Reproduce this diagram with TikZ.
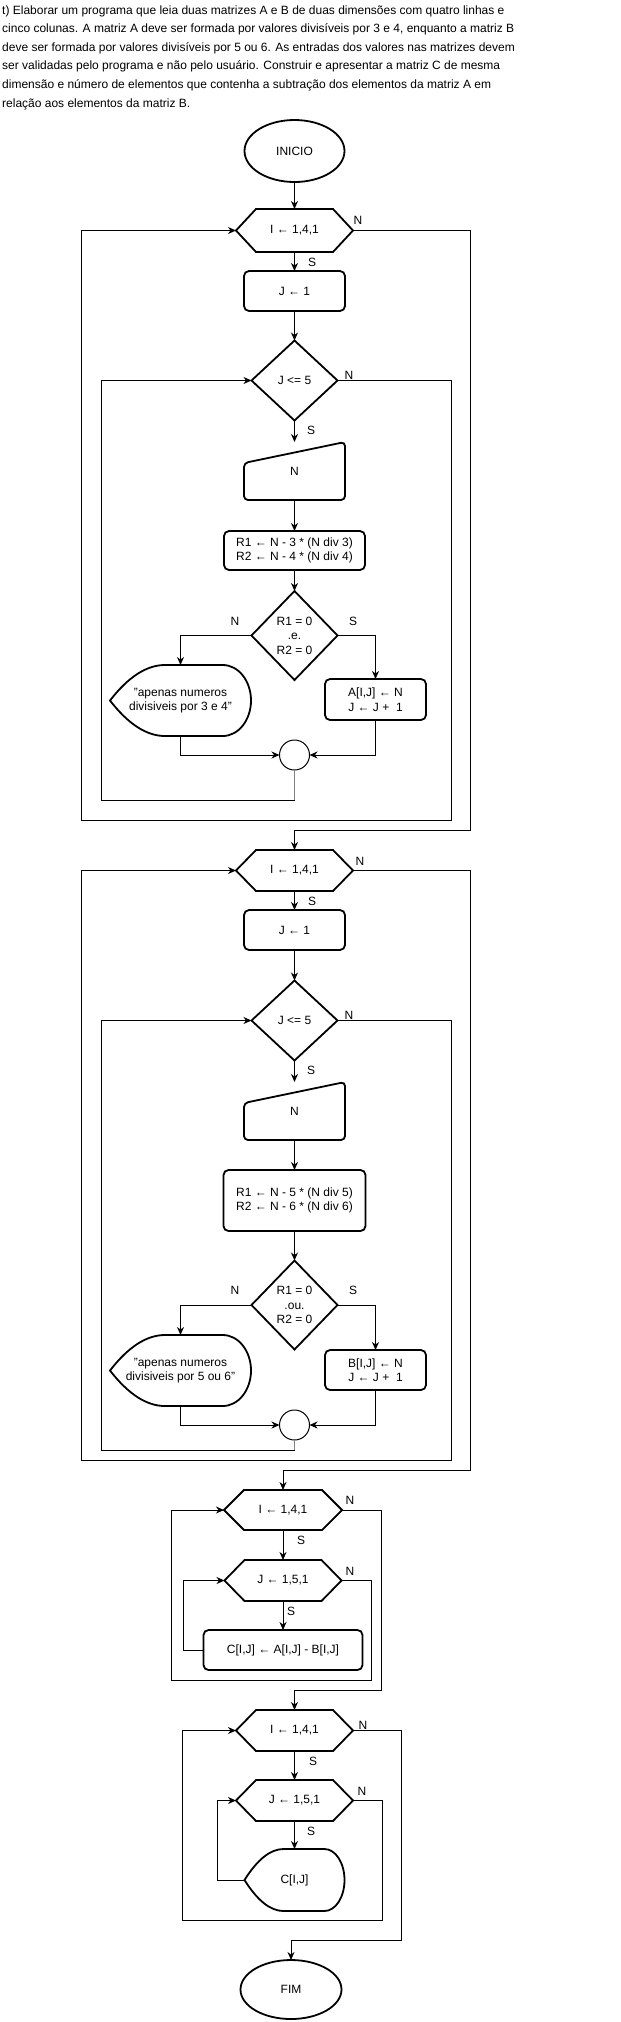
\documentclass[tikz,border=0pt]{standalone}
\usepackage{fontspec}
\setmainfont{Liberation Sans}
\usetikzlibrary{arrows.meta,shapes.geometric,calc}
\newcommand\fsz{\fontsize{12}{14.5}\selectfont}
\tikzset{
  ghost/.style={rectangle,inner sep=0pt,outer sep=0pt,align=center,font=\fsz},
  outl/.style={line width=1.8pt,line join=miter},
  rbox/.style={draw,rectangle,line width=1.8pt,rounded corners=5pt,inner sep=0pt,outer sep=0pt,align=center,font=\fsz},
  term/.style={draw,ellipse,line width=1.8pt,inner sep=0pt,outer sep=0pt,font=\fsz},
  junc/.style={draw,circle,line width=1pt,inner sep=0pt,outer sep=0pt,minimum size=30pt},
  con/.style={line width=1pt,-{Stealth[length=8pt,width=7pt,inset=2.5pt]}},
  greyl/.style={line width=1.6pt,draw=black!50},
  lbl/.style={font=\fsz,inner sep=0pt},
  ttl/.style={font=\fontsize{12}{14}\selectfont,inner sep=0pt,anchor=base west},
}
% hexagon: name, cx, cy, w, h, text
\newcommand\HexNode[6]{%
  \node[ghost,minimum width=#4pt,minimum height=#5pt] (#1) at (#2,#3) {#6};
  \draw[outl] (#1.north) -- ([xshift=-20pt]#1.north east) -- (#1.east) -- ([xshift=-20pt]#1.south east)
    -- ([xshift=20pt]#1.south west) -- (#1.west) -- ([xshift=20pt]#1.north west) -- cycle;}
% diamond
\newcommand\DiaNode[6]{%
  \node[ghost,minimum width=#4pt,minimum height=#5pt] (#1) at (#2,#3) {#6};
  \draw[outl] (#1.north) -- (#1.east) -- (#1.south) -- (#1.west) -- cycle;}
% manual input
\newcommand\ManNode[6]{%
  \node[ghost,minimum width=#4pt,minimum height=#5pt] (#1) at (#2,#3) {#6};
  \draw[outl,rounded corners=4pt] (#1.south) -- (#1.south west) -- ([yshift=-21pt]#1.north west)
    -- (#1.north east) -- (#1.south east) -- cycle;}
% display
\newcommand\DispNode[6]{%
  \pgfmathsetmacro\dispD{0.39*#4}%
  \pgfmathsetmacro\dispA{\dispD/3}%
  \pgfmathsetmacro\dispB{2*\dispD/3}%
  \pgfmathsetmacro\dispC{#5/3}%
  \pgfmathsetmacro\dispR{0.2*#4}%
  \pgfmathsetmacro\dispH{#5/2}%
  \node[ghost,minimum width=#4pt,minimum height=#5pt] (#1) at (#2,#3) {#6};
  \draw[outl] (#1.west) .. controls ([xshift=\dispA pt,yshift=\dispC pt]#1.west) and ([xshift=\dispB pt]#1.north west)
    .. ([xshift=\dispD pt]#1.north west) -- ([xshift=-\dispR pt]#1.north east)
    arc[start angle=90,end angle=-90,x radius=\dispR pt,y radius=\dispH pt]
    -- ([xshift=\dispD pt]#1.south west) .. controls ([xshift=\dispB pt]#1.south west) and ([xshift=\dispA pt,yshift=-\dispC pt]#1.west)
    .. (#1.west) -- cycle;}

\begin{document}
\begin{tikzpicture}[x=1pt,y={(0pt,-1pt)}]
\fill[white] (0,0) rectangle (621,2022);
\useasboundingbox (0,0) rectangle (621,2022);

% title
\node[ttl] (t1) at (2,14) {t) Elaborar um programa que leia duas matrizes A e B de duas dimensões com quatro linhas e};
\node[ttl] (t2) at (2,32.6) {cinco colunas. A matriz A deve ser formada por valores divisíveis por 3 e 4, enquanto a matriz B};
\node[ttl] (t3) at (2,51.2) {deve ser formada por valores divisíveis por 5 ou 6. As entradas dos valores nas matrizes devem};
\node[ttl] (t4) at (2,69.8) {ser validadas pelo programa e não pelo usuário. Construir e apresentar a matriz C de mesma};
\node[ttl] (t5) at (2,88.4) {dimensão e número de elementos que contenha a subtração dos elementos da matriz A em};
\node[ttl] (t6) at (2,107) {relação aos elementos da matriz B.};

% ---------------- section 1
\node[term,minimum width=100pt,minimum height=62pt] (ini) at (294.5,151) {INICIO};
\HexNode{h1}{294.5}{230.5}{117}{43}{I ← 1,4,1}
\node[rbox,minimum width=101pt,minimum height=40pt] (j1) at (294.5,291) {J ← 1};
\DiaNode{d1}{294.5}{380.5}{86}{80}{J <= 5}
\ManNode{m1}{294.5}{471}{101}{58}{N}
\node[rbox,minimum width=141pt,minimum height=39pt] (r1) at (294.5,550.5) {R1 ← N - 3 * (N div 3)\\R2 ← N - 4 * (N div 4)};
\DiaNode{e1}{294.5}{635.5}{86}{89}{R1 = 0\\.e.\\R2 = 0}
\DispNode{p1}{180.5}{700.5}{141}{71}{"apenas numeros\\divisiveis por 3 e 4"}
\node[rbox,minimum width=101pt,minimum height=41pt] (a1) at (375.5,699.5) {A[I,J] ← N\\J ← J +\ \ 1};
\node[junc] (c1) at (294.5,755) {};

\node[lbl] (l1) at (358,220) {N};
\node[lbl] (l2) at (312,262) {S};
\node[lbl] (l3) at (349,375) {N};
\node[lbl] (l4) at (311,430) {S};
\node[lbl] (l5) at (235,621) {N};
\node[lbl] (l6) at (353,621) {S};

\draw[con] (ini.south) -- (h1.north);
\draw[con] (h1.south) -- (j1.north);
\draw[con] (j1.south) -- (d1.north);
\draw[con] (d1.south) -- (m1.north);
\draw[con] (m1.south) -- (r1.north);
\draw[con] (r1.south) -- (e1.north);
\draw[con] (e1.west) -| (p1.north);
\draw[con] (e1.east) -| (a1.north);
\draw[con] (p1.south) |- (c1.west);
\draw[con] (a1.south) |- (c1.east);
\draw[con] (c1.south) |- (101,800) |- (d1.west);
\draw[greyl] (c1.south) -- (294.5,800);
\draw[con] (d1.east) -| (451,820) -- (81,820) |- (h1.west);

% ---------------- section 2
\HexNode{h2}{294.5}{870.5}{117}{41}{I ← 1,4,1}
\node[rbox,minimum width=101pt,minimum height=40pt] (j2) at (294.5,930) {J ← 1};
\DiaNode{d2}{294.5}{1020.5}{86}{80}{J <= 5}
\ManNode{m2}{294.5}{1111}{101}{58}{N}
\node[rbox,minimum width=142pt,minimum height=61pt] (r2) at (294.5,1200.5) {R1 ← N - 5 * (N div 5)\\R2 ← N - 6 * (N div 6)};
\DiaNode{e2}{294.5}{1305}{86}{89}{R1 = 0\\.ou.\\R2 = 0}
\DispNode{p2}{180.5}{1370.5}{141}{71}{"apenas numeros\\divisiveis por 5 ou 6"}
\node[rbox,minimum width=101pt,minimum height=40pt] (b2) at (375.5,1370) {B[I,J] ← N\\J ← J +\ \ 1};
\node[junc] (c2) at (294.5,1425) {};

\node[lbl] (l7) at (360,861) {N};
\node[lbl] (l8) at (312,901) {S};
\node[lbl] (l9) at (349,1015) {N};
\node[lbl] (l10) at (311,1070) {S};
\node[lbl] (l11) at (235,1290) {N};
\node[lbl] (l12) at (353,1290) {S};

\draw[con] (h1.east) -| (470,830) -| (h2.north);
\draw[con] (h2.south) -- (j2.north);
\draw[con] (j2.south) -- (d2.north);
\draw[con] (d2.south) -- (m2.north);
\draw[con] (m2.south) -- (r2.north);
\draw[con] (r2.south) -- (e2.north);
\draw[con] (e2.west) -| (p2.north);
\draw[con] (e2.east) -| (b2.north);
\draw[con] (p2.south) |- (c2.west);
\draw[con] (b2.south) |- (c2.east);
\draw[con] (c2.south) |- (101,1450) |- (d2.west);
\draw[greyl] (c2.south) -- (294.5,1450);
\draw[con] (d2.east) -| (451,1460) -- (81,1460) |- (h2.west);

% ---------------- section 3
\HexNode{h3}{283}{1510}{118}{40}{I ← 1,4,1}
\HexNode{j3}{283}{1580.5}{117}{41}{J ← 1,5,1}
\node[rbox,minimum width=159pt,minimum height=40pt] (cb) at (283,1650) {C[I,J] ← A[I,J] - B[I,J]};

\node[lbl] (l13) at (350,1500) {N};
\node[lbl] (l14) at (301,1540) {S};
\node[lbl] (l15) at (350,1571) {N};
\node[lbl] (l16) at (291,1611) {S};

\draw[con] (h2.east) -| (470,1470) -| (h3.north);
\draw[con] (h3.south) -- (j3.north);
\draw[con] (j3.south) -- (cb.north);
\draw[con] (cb.west) -- (183,1650) |- (j3.west);
\draw[con] (j3.east) -| (371,1680) -- (171,1680) |- (h3.west);

% ---------------- section 4
\HexNode{h4}{294.5}{1730.5}{117}{41}{I ← 1,4,1}
\HexNode{j4}{294.5}{1800.5}{117}{41}{J ← 1,5,1}
\DispNode{p4}{294.5}{1880}{100}{62}{C[I,J]}
\node[term,minimum width=101pt,minimum height=59pt] (fim) at (291,1989.5) {FIM};

\node[lbl] (l17) at (363,1725) {N};
\node[lbl] (l18) at (313,1761) {S};
\node[lbl] (l19) at (362,1791) {N};
\node[lbl] (l20) at (311,1831) {S};

\draw[con] (h3.east) -| (381,1690) -| (h4.north);
\draw[con] (h4.south) -- (j4.north);
\draw[con] (j4.south) -- (p4.north);
\draw[con] (p4.west) -- (217,1880) |- (j4.west);
\draw[con] (j4.east) -| (382,1920) -- (182,1920) |- (h4.west);
\draw[con] (h4.east) -| (401,1940) -| (fim.north);
\end{tikzpicture}
\end{document}
